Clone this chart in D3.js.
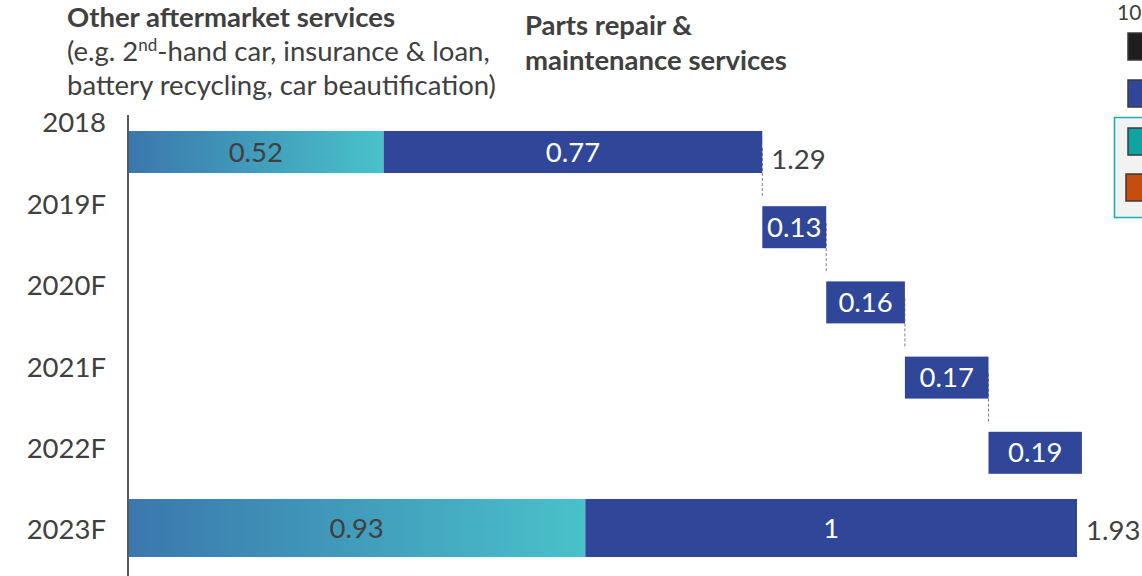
<!DOCTYPE html>
<html>
<head>
<meta charset="utf-8">
<script src="https://cdn.jsdelivr.net/npm/d3@7"></script>
<style>
  html, body { margin: 0; padding: 0; background: #fff; }
  svg { display: block; font-family: Lato, "Open Sans", sans-serif; }
</style>
</head>
<body>
<svg id="chart" width="1142" height="576"></svg>
<script>
// data
var years = ["2018", "2019F", "2020F", "2021F", "2022F", "2023F"];
var otherServices = [0.52, null, null, null, null, 0.93];
var partsRepair = [0.77, 0.13, 0.16, 0.17, 0.19, 1];
var totals = [1.29, null, null, null, null, 1.93];
var legendColors = ["#1f1d1e", "#2f4699", "#0fa3a3", "#c64d0c"];

var svg = d3.select("#chart"),
  width = 1142,
  height = 576,
  blue = "#2f4699",
  textColor = "#404040",
  fs = "27.5px";

var x = d3.scaleLinear()
  .domain([0, 1.93])
  .range([128, 1077]);

// category labels and bars sit on slightly different pitches in the original
var yLabel = d3.scalePoint()
  .domain(years)
  .range([123, 530]);

var yBar = d3.scalePoint()
  .domain(years)
  .range([152, 528]);

var barH = function(d, i) {
  return i === years.length - 1 ? 58 : 42;
};

// gradient for "other aftermarket services"
var defs = svg.append("defs");
var grad = defs.append("linearGradient")
  .attr("id", "otherGrad")
  .attr("x1", "0%").attr("x2", "100%")
  .attr("y1", "0%").attr("y2", "0%");
grad.append("stop").attr("offset", "0%").attr("stop-color", "#3a77ad");
grad.append("stop").attr("offset", "100%").attr("stop-color", "#49c2ca");

// waterfall: compute start of each parts segment
var starts = [], running = 0;
years.forEach(function(y, i) {
  if (otherServices[i] != null) {
    starts.push(otherServices[i]);
    running = otherServices[i] + partsRepair[i];
  } else {
    starts.push(running);
    running += partsRepair[i];
  }
});

// headers
var hdr = svg.append("g")
  .attr("fill", textColor)
  .style("font-size", fs);

hdr.append("text")
  .attr("x", 67).attr("y", 27)
  .style("font-weight", "bold")
  .text("Other aftermarket services");

var l2 = hdr.append("text")
  .attr("x", 67).attr("y", 61);
l2.append("tspan").text("(e.g. 2");
l2.append("tspan").attr("dy", -10).style("font-size", "17px").text("nd");
l2.append("tspan").attr("dy", 10).text("-hand car, insurance & loan,");

hdr.append("text")
  .attr("x", 67).attr("y", 95)
  .text("battery recycling, car beautification)");

hdr.append("text")
  .attr("x", 525).attr("y", 35)
  .style("font-weight", "bold")
  .text("Parts repair &");

hdr.append("text")
  .attr("x", 525).attr("y", 70)
  .style("font-weight", "bold")
  .text("maintenance services");

// connectors
var conn = svg.append("g")
  .attr("stroke", "#7f7f7f")
  .attr("stroke-width", 1)
  .attr("stroke-dasharray", "3,2");

years.forEach(function(y, i) {
  if (i >= years.length - 2) return;
  var xe = x(starts[i] + partsRepair[i]);
  conn.append("line")
    .attr("x1", xe).attr("x2", xe)
    .attr("y1", yBar(y) - 4)
    .attr("y2", yBar(years[i + 1]) - barH(null, i + 1) / 2 - 8);
});

// bars
var bars = svg.append("g");

years.forEach(function(y, i) {
  var h = barH(null, i);
  if (otherServices[i] != null) {
    bars.append("rect")
      .attr("x", x(0))
      .attr("y", yBar(y) - h / 2)
      .attr("width", x(otherServices[i]) - x(0))
      .attr("height", h)
      .attr("fill", "url(#otherGrad)");
    bars.append("text")
      .attr("x", (x(0) + x(otherServices[i])) / 2)
      .attr("y", yBar(y))
      .attr("dy", "0.35em")
      .attr("text-anchor", "middle")
      .attr("fill", textColor)
      .style("font-size", fs)
      .text(otherServices[i]);
  }
  bars.append("rect")
    .attr("x", x(starts[i]))
    .attr("y", yBar(y) - h / 2)
    .attr("width", x(starts[i] + partsRepair[i]) - x(starts[i]))
    .attr("height", h)
    .attr("fill", blue);
  bars.append("text")
    .attr("x", (x(starts[i]) + x(starts[i] + partsRepair[i])) / 2)
    .attr("y", yBar(y))
    .attr("dy", "0.35em")
    .attr("text-anchor", "middle")
    .attr("fill", "#fff")
    .style("font-size", fs)
    .text(partsRepair[i]);
  if (totals[i] != null) {
    bars.append("text")
      .attr("x", x(totals[i]) + 9)
      .attr("y", yBar(y) + (i === 0 ? 7 : 2))
      .attr("dy", "0.35em")
      .attr("fill", textColor)
      .style("font-size", fs)
      .text(totals[i]);
  }
});

// axis
var axis = svg.append("g")
  .attr("transform", "translate(128,0)")
  .call(d3.axisLeft(yLabel).tickSize(0).tickPadding(22));
axis.select(".domain").remove();
axis.append("line")
  .attr("x1", 0).attr("x2", 0)
  .attr("y1", 115).attr("y2", height)
  .attr("stroke", "#595959")
  .attr("stroke-width", 2);
axis.selectAll(".tick text")
  .attr("fill", textColor)
  .style("font-size", fs)
  .style("font-family", "Lato, 'Open Sans', sans-serif");

// legend, cut off by the right edge
var leg = svg.append("g");
leg.append("text")
  .attr("x", 1117).attr("y", 20)
  .attr("fill", textColor)
  .style("font-size", "21px")
  .text("10");
leg.append("rect")
  .attr("x", 1114.5).attr("y", 117.5)
  .attr("width", 60).attr("height", 100)
  .attr("fill", "#f2f2f2")
  .attr("stroke", "#1aadad")
  .attr("stroke-width", 1.5);

var legY = [33, 80, 128, 174];
var legX = [1128, 1128, 1128, 1126];
legendColors.forEach(function(c, i) {
  leg.append("rect")
    .attr("x", legX[i]).attr("y", legY[i])
    .attr("width", 30).attr("height", 27)
    .attr("fill", c)
    .attr("stroke", "#3a3a3a")
    .attr("stroke-width", 1.5);
});
</script>
</body>
</html>
